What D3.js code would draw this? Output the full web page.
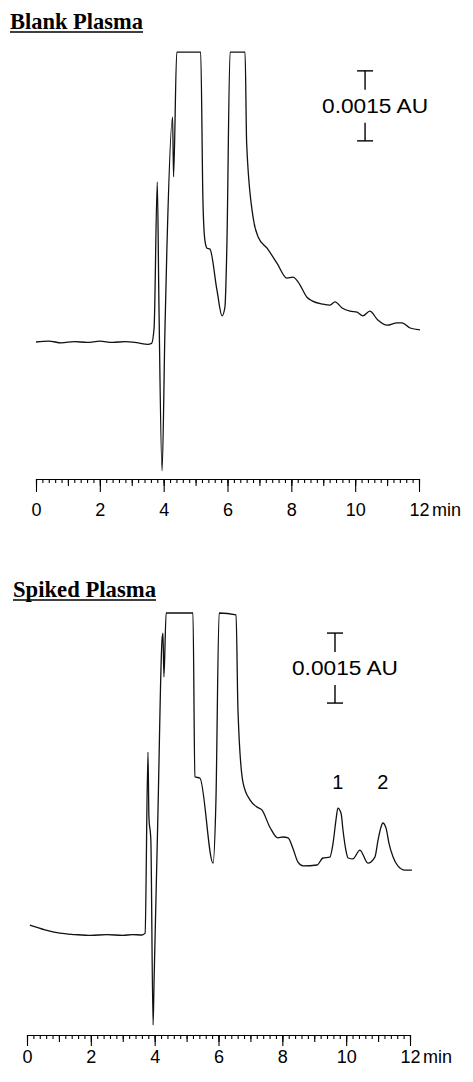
<!DOCTYPE html>
<html>
<head>
<meta charset="utf-8">
<script src="https://cdn.jsdelivr.net/npm/d3@7"></script>
<style>
  body { margin: 0; background: #fff; }
  svg { display: block; }
</style>
</head>
<body>
<div id="chart"></div>
<script>
// retention time (min) and detector signal (mAU above the pre-injection baseline)
const blankTime = [0, 0.4, 0.8, 1.2, 1.6, 2.0, 2.4, 2.8, 3.2, 3.5, 3.62,
  3.70, 3.80, 3.85, 3.95, 4.04, 4.10, 4.28, 4.31, 4.41, 5.16,
  5.23, 5.29, 5.36, 5.45, 5.67, 5.83, 5.92, 5.98, 6.08, 6.55,
  6.60, 6.80, 6.96, 7.24, 7.55, 7.86, 8.05, 8.21, 8.49, 8.65,
  8.99, 9.21, 9.37, 9.59, 9.84, 10.06, 10.24, 10.46, 10.71, 11.00,
  11.31, 11.47, 11.72, 12.03];
const blankSignal = [0, 0.02, -0.02, 0.01, -0.01, 0.02, -0.01, 0.01, -0.02, -0.05, -0.03,
  0.3, 3.43, 0.9, -2.76, 0.26, 1.97, 4.82, 3.54, 6.21, 6.21,
  3.04, 2.19, 2.01, 1.99, 1.11, 0.56, 0.75, 2.04, 6.21, 6.21,
  4.26, 2.68, 2.25, 2.01, 1.69, 1.37, 1.39, 1.29, 0.96, 0.88,
  0.81, 0.79, 0.86, 0.73, 0.66, 0.64, 0.56, 0.66, 0.47, 0.36,
  0.41, 0.41, 0.30, 0.26];

const spikedTime = [0.09, 0.56, 1.03, 1.5, 2.0, 2.5, 3.0, 3.3, 3.60, 3.70,
  3.79, 3.82, 3.88, 3.95, 3.98, 4.10, 4.23, 4.26, 4.29, 4.36,
  5.20, 5.26, 5.42, 5.83, 5.92, 6.02, 6.55, 6.61, 6.77, 6.99,
  7.21, 7.36, 7.61, 7.86, 8.02, 8.18, 8.33, 8.49, 8.65, 9.09,
  9.27, 9.49, 9.59, 9.68, 9.74, 9.84, 9.90, 9.99, 10.06, 10.21,
  10.43, 10.68, 10.90, 11.00, 11.09, 11.15, 11.25, 11.34, 11.47, 11.62,
  11.84, 12.06];
const spikedSignal = [0.21, 0.11, 0.04, 0.01, -0.01, 0.01, -0.01, 0.01, 0, 0.04,
  3.92, 2.53, 2.04, -1.93, -1.03, 2.53, 6.32, 6.47, 5.53, 6.90,
  6.90, 3.39, 3.36, 1.54, 2.89, 6.90, 6.86, 4.82, 3.26, 2.89,
  2.74, 2.68, 2.31, 2.08, 2.10, 2.08, 1.86, 1.56, 1.48, 1.50,
  1.65, 1.67, 1.97, 2.46, 2.72, 2.61, 2.25, 1.82, 1.65, 1.63,
  1.82, 1.54, 1.67, 2.04, 2.31, 2.40, 2.29, 1.97, 1.67, 1.48,
  1.39, 1.39];

const peakNames = ['1', '2'];
const peakTimes = [9.74, 11.15];
const peakSignals = [2.72, 2.40];

const majorTicks = [0, 2, 4, 6, 8, 10, 12];
const mediumTicks = d3.range(13);
const minorTicks = d3.range(61).map(i => i / 5);
const timeDomain = [0, 12];
const scaleBarValue = 1.5; // mAU
const scaleBarLabel = '0.0015 AU';
const axisUnit = 'min';

const W = 473, H = 1082;
const sansFont = '"Liberation Sans", Arial, Helvetica, sans-serif';
const serifFont = '"Liberation Serif", "Times New Roman", serif';

const svg = d3.select('#chart').append('svg')
  .attr('width', W)
  .attr('height', H);

function drawPanel(p) {
  const x = d3.scaleLinear().domain(timeDomain).range([p.x0, p.x1]);
  const y = d3.scaleLinear().domain([0, scaleBarValue]).range([p.yBase, p.yBase - p.barPx]);
  const g = svg.append('g');

  // title, bold + underlined
  g.append('text')
    .attr('x', p.titleX)
    .attr('y', p.titleY)
    .attr('font-family', serifFont)
    .attr('font-weight', 'bold')
    .attr('font-size', 23)
    .attr('textLength', p.titleW)
    .attr('lengthAdjust', 'spacingAndGlyphs')
    .text(p.title);
  g.append('line')
    .attr('x1', p.titleX).attr('x2', p.titleX + p.titleW)
    .attr('y1', p.titleY + 3).attr('y2', p.titleY + 3)
    .attr('stroke', '#000').attr('stroke-width', 1.5);

  // trace
  const line = d3.line()
    .x((d, i) => x(p.time[i]))
    .y(d => y(d))
    .curve(d3.curveMonotoneX);
  g.append('path')
    .datum(p.signal)
    .attr('d', line)
    .attr('fill', 'none')
    .attr('stroke', '#111')
    .attr('stroke-width', 1.3)
    .attr('stroke-linejoin', 'round');

  // time axis: minor / medium / major ticks hanging below the line
  const axisG = g.append('g').attr('transform', `translate(0,${p.axisY})`);
  axisG.append('g')
    .call(d3.axisBottom(x).tickValues(minorTicks).tickSize(4).tickSizeOuter(0).tickFormat(''));
  axisG.append('g')
    .call(d3.axisBottom(x).tickValues(mediumTicks).tickSize(7).tickSizeOuter(0).tickFormat(''))
    .select('.domain').remove();
  const major = axisG.append('g')
    .call(d3.axisBottom(x).tickValues(majorTicks).tickSize(p.majorLen).tickSizeOuter(0));
  major.select('.domain').remove();
  major.selectAll('text')
    .attr('y', p.labelY - p.axisY)
    .attr('dy', 0)
    .attr('font-size', 18)
    .attr('font-family', sansFont)
    .attr('fill', '#000');
  axisG.selectAll('line, path').attr('stroke', '#000').attr('stroke-width', 1.1);

  g.append('text')
    .attr('x', x(timeDomain[1]) + 13)
    .attr('y', p.labelY)
    .attr('font-size', 18)
    .attr('font-family', sansFont)
    .text(axisUnit);

  // vertical scale bar
  const bx = x(p.barT);
  const yTop = y(p.barTop), yBot = y(p.barTop - scaleBarValue);
  const mid = (yTop + yBot) / 2;
  const bar = g.append('g').attr('stroke', '#000').attr('stroke-width', 1.4);
  bar.append('line').attr('x1', bx - 8).attr('x2', bx + 8).attr('y1', yTop).attr('y2', yTop);
  bar.append('line').attr('x1', bx).attr('x2', bx).attr('y1', yTop).attr('y2', yTop + 19);
  bar.append('line').attr('x1', bx).attr('x2', bx).attr('y1', yBot - 18).attr('y2', yBot);
  bar.append('line').attr('x1', bx - 8).attr('x2', bx + 8).attr('y1', yBot).attr('y2', yBot);
  g.append('text')
    .attr('x', bx - 43)
    .attr('y', mid + 7)
    .attr('font-size', 20)
    .attr('font-family', sansFont)
    .attr('textLength', 106)
    .attr('lengthAdjust', 'spacingAndGlyphs')
    .text(scaleBarLabel);

  // peak numbers, set on one common row above the tallest peak
  if (p.peaks) {
    const labelRow = y(d3.max(peakSignals)) - 19;
    g.selectAll('.peak-label')
      .data(peakNames)
      .enter()
      .append('text')
      .attr('class', 'peak-label')
      .attr('x', (d, i) => x(peakTimes[i]))
      .attr('y', labelRow)
      .attr('text-anchor', 'middle')
      .attr('font-size', 20)
      .attr('font-family', sansFont)
      .text(d => d);
  }
}

drawPanel({
  title: 'Blank Plasma', titleX: 10, titleY: 29, titleW: 133,
  time: blankTime, signal: blankSignal,
  x0: 36, x1: 419, yBase: 342, barPx: 70,
  axisY: 479, majorLen: 13, labelY: 516,
  barT: 10.31, barTop: 5.81, peaks: false
});

drawPanel({
  title: 'Spiked Plasma', titleX: 13, titleY: 597, titleW: 143,
  time: spikedTime, signal: spikedSignal,
  x0: 27, x1: 410, yBase: 935, barPx: 70,
  axisY: 1035, majorLen: 11, labelY: 1063,
  barT: 9.65, barTop: 6.47, peaks: true
});
</script>
</body>
</html>
